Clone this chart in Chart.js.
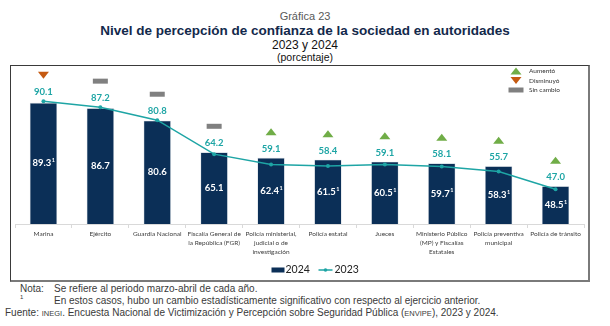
<!DOCTYPE html>
<html>
<head>
<meta charset="utf-8">
<script src="https://cdn.jsdelivr.net/npm/chart.js@4.4.0/dist/chart.umd.min.js"></script>
<style>
  body { margin: 0; width: 610px; height: 326px; background: #fff; position: relative; overflow: hidden;
         font-family: "Liberation Sans", Arial, sans-serif; }
  .t { position: absolute; left: 0; width: 610px; text-align: center; white-space: nowrap; line-height: 1; }
  #box { position: absolute; left: 10px; top: 65px; width: 580px; height: 217px; box-sizing: border-box;
         border: 1px solid #3a3a3a; border-right-width: 2px; border-bottom-width: 2px; border-right-color: #7a7a7a; border-bottom-color: #7a7a7a; }
  #wrap { position: absolute; left: 11px; top: 66px; width: 577px; height: 214px; }
  .n { position: absolute; font-size: 10px; color: #3a3a3a; white-space: nowrap; line-height: 1; }
  .sc { font-size: 7.5px; }
</style>
</head>
<body>
<div class="t" style="top:11px;font-size:11px;color:#595959">Gráfica 23</div>
<div class="t" style="top:24px;font-size:13.5px;font-weight:bold;color:#13294b">Nivel de percepción de confianza de la sociedad en autoridades</div>
<div class="t" style="top:39px;font-size:12px;color:#111">2023 y 2024</div>
<div class="t" style="top:52px;font-size:10.5px;color:#111">(porcentaje)</div>
<div id="box"></div>
<div id="wrap"><canvas id="myChart" width="577" height="214"></canvas></div>
<div class="n" style="left:20px;top:284px">Nota:</div>
<div class="n" style="left:54px;top:284px">Se refiere al periodo marzo-abril de cada año.</div>
<div class="n" style="left:20px;top:294px;font-size:6px">1</div>
<div class="n" style="left:54px;top:296px">En estos casos, hubo un cambio estadísticamente significativo con respecto al ejercicio anterior.</div>
<div class="n" style="left:5px;top:308px">Fuente: <span class="sc">INEGI</span>. Encuesta Nacional de Victimización y Percepción sobre Seguridad Pública (<span class="sc">ENVIPE</span>), 2023 y 2024.</div>
<script>
// categories and values
const categories = [
  "Marina",
  "Ejército",
  "Guardia Nacional",
  ["Fiscalía General de", "la República (FGR)"],
  ["Policía ministerial,", "judicial o de", "investigación"],
  "Policía estatal",
  "Jueces",
  ["Ministerio Público", "(MP) y Fiscalías", "Estatales"],
  ["Policía preventiva", "municipal"],
  "Policía de tránsito",
];
const values2024 = [89.3, 86.7, 80.6, 65.1, 62.4, 61.5, 60.5, 59.7, 58.3, 48.5];
const values2023 = [90.1, 87.2, 80.8, 64.2, 59.1, 58.4, 59.1, 58.1, 55.7, 47.0];
// significant change marker (superscript 1)
const significant = [true, false, false, false, true, true, true, true, true, true];
// direction of change
const change = ["down", "same", "same", "same", "up", "up", "up", "up", "up", "up"];

const navy = "#0b2f57";
const teal = "#1ea5a5";
const green = "#70ad47";
const orange = "#c55a11";
const grey = "#808080";
const labelFont = "Lato, 'Open Sans', sans-serif";

function drawMarker(ctx, kind, x, y) {
  ctx.beginPath();
  if (kind === "up") {
    ctx.fillStyle = green;
    ctx.moveTo(x - 5.5, y + 3.5);
    ctx.lineTo(x + 5.5, y + 3.5);
    ctx.lineTo(x, y - 3.5);
  } else if (kind === "down") {
    ctx.fillStyle = orange;
    ctx.moveTo(x - 5.5, y - 3.5);
    ctx.lineTo(x + 5.5, y - 3.5);
    ctx.lineTo(x, y + 3.5);
  } else {
    ctx.fillStyle = grey;
    ctx.rect(x - 7.5, y - 2.5, 15, 5);
  }
  ctx.closePath();
  ctx.fill();
}

const labelsPlugin = {
  id: "labelsPlugin",
  afterDatasetsDraw(chart) {
    const ctx = chart.ctx;
    const bars = chart.getDatasetMeta(0).data;
    const pts = chart.getDatasetMeta(1).data;
    const bottom = chart.chartArea.bottom;
    ctx.save();
    ctx.textBaseline = "middle";
    bars.forEach((bar, i) => {
      // value 2024 inside the bar
      const midY = (bar.y + bottom) / 2;
      ctx.font = "bold 9.5px " + labelFont;
      ctx.fillStyle = "#ffffff";
      const txt = values2024[i].toFixed(1);
      const w = ctx.measureText(txt).width;
      const sup = significant[i] ? 3 : 0;
      ctx.textAlign = "left";
      ctx.fillText(txt, bar.x - (w + sup) / 2, midY);
      if (significant[i]) {
        ctx.font = "bold 5.5px " + labelFont;
        ctx.fillText("1", bar.x - (w + sup) / 2 + w + 0.5, midY - 3);
      }
      // value 2023 above
      const top = Math.min(bar.y, pts[i].y);
      const ly = top - 9;
      ctx.font = "bold 9.5px " + labelFont;
      ctx.fillStyle = teal;
      ctx.textAlign = "center";
      ctx.fillText(values2023[i].toFixed(1), bar.x, ly);
      drawMarker(ctx, change[i], bar.x, ly - 17);
    });

    // top-right legend
    const lx = chart.width - 72;
    const legendRows = [["up", "Aumentó"], ["down", "Disminuyó"], ["same", "Sin cambio"]];
    legendRows.forEach((r, k) => {
      const y = 5 + k * 9.5;
      drawMarker(ctx, r[0], lx, y);
      ctx.font = "6.5px " + labelFont;
      ctx.fillStyle = "#333";
      ctx.textAlign = "left";
      ctx.fillText(r[1], lx + 13, y);
    });

    // bottom legend
    const by = chart.height - 10;
    const bx = chart.width / 2 - 28;
    ctx.fillStyle = navy;
    ctx.fillRect(bx, by - 2.5, 13, 5);
    ctx.font = "10.5px " + labelFont;
    ctx.fillStyle = "#222";
    ctx.textAlign = "left";
    ctx.fillText("2024", bx + 14, by);
    ctx.strokeStyle = teal;
    ctx.lineWidth = 1.5;
    ctx.beginPath();
    ctx.moveTo(bx + 47, by);
    ctx.lineTo(bx + 61, by);
    ctx.stroke();
    ctx.fillStyle = teal;
    ctx.beginPath();
    ctx.arc(bx + 54, by, 1.8, 0, Math.PI * 2);
    ctx.fill();
    ctx.fillStyle = "#222";
    ctx.fillText("2023", bx + 63, by);
    ctx.restore();
  },
};

let myChart = document.getElementById("myChart");

let myGraph = new Chart(myChart, {
  data: {
    labels: categories,
    datasets: [
      {
        type: "bar",
        label: "2024",
        data: values2024,
        backgroundColor: navy,
        borderColor: "rgba(190,200,210,0.9)",
        borderWidth: 0.6,
        categoryPercentage: 1,
        barPercentage: 0.48,
        order: 2,
      },
      {
        type: "line",
        label: "2023",
        data: values2023,
        borderColor: teal,
        backgroundColor: teal,
        borderWidth: 1.5,
        pointRadius: 2,
        pointBorderWidth: 0,
        tension: 0,
        order: 1,
      },
    ],
  },
  options: {
    responsive: false,
    animation: false,
    layout: { padding: { left: 1, right: 2, top: 15, bottom: 16 } },
    plugins: { legend: { display: false }, tooltip: { enabled: false } },
    scales: {
      x: {
        offset: true,
        grid: { display: true, drawOnChartArea: false, offset: true, tickLength: 4, color: "#d9d9d9" },
        border: { display: true, color: "#d9d9d9" },
        ticks: {
          padding: 2,
          autoSkip: false,
          maxRotation: 0,
          color: "#404040",
          font: { family: labelFont, size: 6.5, lineHeight: 1.35 },
        },
        afterFit(scale) {
          scale.height = 40;
        },
      },
      y: { display: false, min: 30, max: 100 },
    },
  },
  plugins: [labelsPlugin],
});
</script>
</body>
</html>
